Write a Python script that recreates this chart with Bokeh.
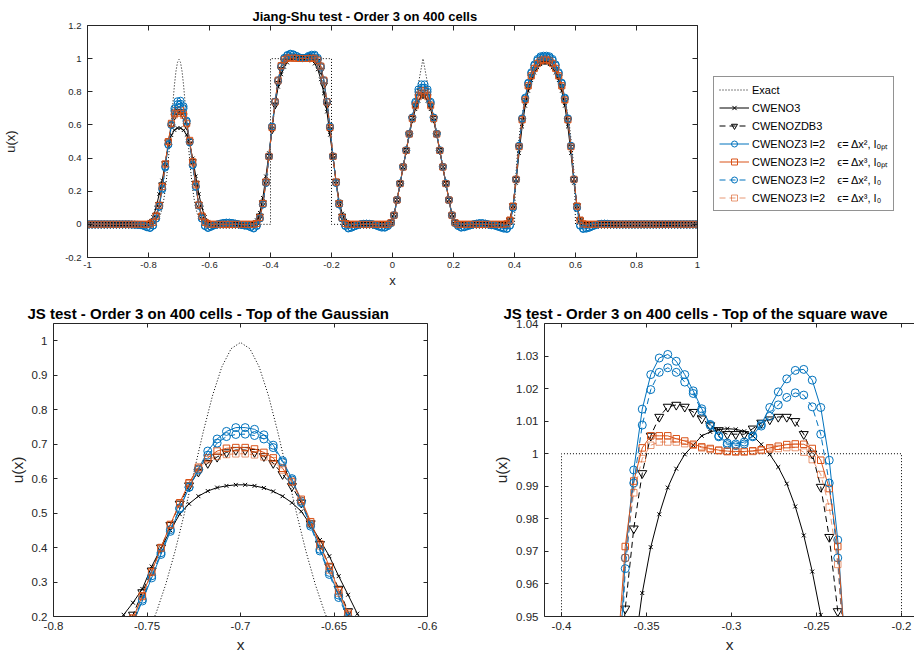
import numpy as np
from bokeh.plotting import figure
from bokeh.layouts import row, column
from bokeh.models import (LinearAxis, FixedTicker, CustomJSTickFormatter, Legend,
                          LegendItem, Range1d)
from bokeh.embed import file_html
from bokeh.resources import INLINE

FONT = "Liberation Sans"
BLUE = "#0072BD"
ORANGE = "#D95319"
INK = "#262626"

# ---------------------------------------------------------------- labels
TITLE_TOP = "Jiang-Shu test - Order 3 on 400 cells"
TITLE_GAUSS = "JS test - Order 3 on 400 cells - Top of the Gaussian"
TITLE_SQUARE = "JS test - Order 3 on 400 cells - Top of the square wave"
LEGEND_LABELS = ["Exact", "CWENO3", "CWENOZDB3",
                 "CWENOZ3 l=2    \u03f5= \u0394x\u00b2, I\u2092\u209a\u209c",
                 "CWENOZ3 l=2    \u03f5= \u0394x\u00b3, I\u2092\u209a\u209c",
                 "CWENOZ3 l=2    \u03f5= \u0394x\u00b2, I\u2080",
                 "CWENOZ3 l=2    \u03f5= \u0394x\u00b3, I\u2080"]

# ---------------------------------------------------------------- ticks
TOP_XTICKS = [-1, -0.8, -0.6, -0.4, -0.2, 0, 0.2, 0.4, 0.6, 0.8, 1]
TOP_YTICKS = [-0.2, 0, 0.2, 0.4, 0.6, 0.8, 1, 1.2]
GAUSS_XTICKS = [-0.8, -0.75, -0.7, -0.65, -0.6]
GAUSS_YTICKS = [0.2, 0.3, 0.4, 0.5, 0.6, 0.7, 0.8, 0.9, 1]
SQ_XTICKS = [-0.4, -0.35, -0.3, -0.25, -0.2]
SQ_YTICKS = [0.95, 0.96, 0.97, 0.98, 0.99, 1, 1.01, 1.02, 1.03, 1.04]

# ---------------------------------------------------------------- exact solution
EX_GAUSS_X = [-0.8, -0.795, -0.79, -0.785, -0.78, -0.775, -0.77, -0.765, -0.76, -0.755,
              -0.75, -0.745, -0.74, -0.735, -0.73, -0.725, -0.72, -0.715, -0.71, -0.705,
              -0.7, -0.695, -0.69, -0.685, -0.68, -0.675, -0.67, -0.665, -0.66, -0.655,
              -0.65, -0.645, -0.64, -0.635, -0.63, -0.625, -0.62, -0.615, -0.61, -0.605, -0.6]
EX_GAUSS_Y = [0.0, 0.001, 0.002, 0.004, 0.007, 0.013, 0.023, 0.039, 0.064, 0.099,
              0.148, 0.212, 0.293, 0.389, 0.499, 0.617, 0.734, 0.84, 0.924, 0.977,
              0.995, 0.977, 0.924, 0.84, 0.734, 0.617, 0.499, 0.389, 0.293, 0.212,
              0.148, 0.099, 0.064, 0.039, 0.023, 0.013, 0.007, 0.004, 0.002, 0.001, 0.0]
EX_SQ_X = [-0.4, -0.4, -0.2, -0.2]
EX_SQ_Y = [0.0, 1.0, 1.0, 0.0]
EX_TRI_X = [0.0, 0.1, 0.2]
EX_TRI_Y = [0.0, 1.0, 0.0]
EX_ELL_X = [0.4, 0.4025, 0.405, 0.41, 0.42, 0.43, 0.44, 0.45, 0.46, 0.47, 0.48, 0.49, 0.5,
            0.51, 0.52, 0.53, 0.54, 0.55, 0.56, 0.57, 0.58, 0.59, 0.595, 0.5975, 0.6]
EX_ELL_Y = [0.0, 0.222, 0.312, 0.436, 0.6, 0.714, 0.8, 0.866, 0.917, 0.954, 0.98, 0.995, 1.0,
            0.995, 0.98, 0.954, 0.917, 0.866, 0.8, 0.714, 0.6, 0.436, 0.312, 0.222, 0.0]

# ---------------------------------------------------------------- top panel (every 2nd cell)
TOP_X = [round(-0.995 + 0.01 * k, 3) for k in range(200)]

# regions of the top grid: flatA(17) gauss(24) flatB(11) square(34) flatC(10)
#                          tri(29) flatD(8) ellipse(31) flatE(36)
CW3_GAUSS = [0.001, 0.002, 0.006, 0.016, 0.045, 0.10, 0.183, 0.265, 0.372, 0.474, 0.538, 0.569,
             0.581, 0.581, 0.568, 0.54, 0.485, 0.398, 0.29, 0.183, 0.10, 0.045, 0.016, 0.006]
ZDB3_GAUSS = [0.0, 0.0, 0.001, 0.004, 0.018, 0.055, 0.12, 0.238, 0.366, 0.497, 0.60, 0.654,
              0.68, 0.68, 0.655, 0.596, 0.50, 0.378, 0.248, 0.12, 0.05, 0.015, 0.004, 0.001]
ZO2_GAUSS = [-0.005, -0.01, -0.018, -0.022, -0.008, 0.035, 0.105, 0.21, 0.343, 0.48, 0.60, 0.70,
             0.743, 0.746, 0.713, 0.626, 0.50, 0.36, 0.23, 0.115, 0.035, -0.01, -0.022, -0.015]
ZO3_GAUSS = [0.0, 0.0, 0.0, 0.002, 0.012, 0.05, 0.115, 0.228, 0.365, 0.50, 0.61, 0.67,
             0.689, 0.689, 0.668, 0.611, 0.507, 0.378, 0.243, 0.118, 0.05, 0.012, 0.002, 0.0]
ZI2_GAUSS = [-0.004, -0.009, -0.016, -0.02, -0.007, 0.035, 0.108, 0.217, 0.35, 0.483, 0.60, 0.685,
             0.725, 0.728, 0.70, 0.62, 0.495, 0.356, 0.225, 0.112, 0.035, -0.009, -0.02, -0.013]
ZI3_GAUSS = [0.0, 0.0, 0.0, 0.002, 0.012, 0.05, 0.115, 0.227, 0.363, 0.497, 0.606, 0.66,
             0.671, 0.671, 0.657, 0.607, 0.502, 0.37, 0.237, 0.115, 0.05, 0.012, 0.002, 0.0]

CW3_SQUARE = [0.0, 0.0, 0.005, 0.025, 0.07, 0.16, 0.29, 0.43, 0.58, 0.72, 0.83, 0.905, 0.95,
              0.976, 0.993, 1.002, 1.006, 1.0076, 1.0073, 1.004, 0.998, 0.988, 0.97, 0.935,
              0.875, 0.79, 0.68, 0.54, 0.40, 0.26, 0.14, 0.065, 0.022, 0.005]
ZDB3_SQUARE = [0.0, 0.0, 0.0, 0.01, 0.05, 0.13, 0.26, 0.41, 0.57, 0.72, 0.85, 0.935, 0.985,
               1.009, 1.0147, 1.0136, 1.0098, 1.0066, 1.006, 1.0085, 1.011, 1.0107, 1.003, 0.982,
               0.93, 0.84, 0.72, 0.57, 0.41, 0.26, 0.13, 0.05, 0.01, 0.0]
ZO2_SQUARE = [-0.01, -0.018, -0.025, -0.01, 0.035, 0.12, 0.25, 0.41, 0.59, 0.74, 0.87, 0.955,
              1.005, 1.022, 1.030, 1.026, 1.016, 1.007, 1.003, 1.006, 1.017, 1.024, 1.024, 1.005,
              0.955, 0.87, 0.74, 0.59, 0.41, 0.25, 0.12, 0.035, -0.01, -0.025]
ZO3_SQUARE = [0.0, 0.0, 0.0, 0.005, 0.04, 0.125, 0.255, 0.41, 0.585, 0.74, 0.87, 0.958, 0.995,
              1.004, 1.0055, 1.0042, 1.0025, 1.0014, 1.0008, 1.001, 1.0016, 1.0024, 1.0025, 0.993,
              0.955, 0.87, 0.74, 0.585, 0.41, 0.255, 0.125, 0.04, 0.005, 0.0]
ZI2_SQUARE = [-0.008, -0.015, -0.022, -0.008, 0.035, 0.12, 0.25, 0.41, 0.59, 0.74, 0.865, 0.95,
              1.0, 1.018, 1.026, 1.024, 1.016, 1.007, 1.0035, 1.006, 1.012, 1.0175, 1.017, 0.998,
              0.948, 0.865, 0.74, 0.59, 0.41, 0.25, 0.12, 0.035, -0.008, -0.022]
ZI3_SQUARE = [0.0, 0.0, 0.0, 0.005, 0.04, 0.125, 0.255, 0.41, 0.583, 0.738, 0.865, 0.955, 0.992,
              1.002, 1.0036, 1.0033, 1.0022, 1.0012, 1.0007, 1.0009, 1.0013, 1.0018, 1.001, 0.99,
              0.95, 0.865, 0.738, 0.583, 0.41, 0.255, 0.125, 0.04, 0.005, 0.0]

CW3_TRI = [0.0, 0.0, 0.004, 0.02, 0.063, 0.148, 0.245, 0.345, 0.443, 0.538, 0.625, 0.695, 0.745,
           0.768, 0.768, 0.745, 0.695, 0.625, 0.538, 0.443, 0.345, 0.245, 0.148, 0.063, 0.02,
           0.004, 0.0, 0.0, 0.0]
ZDB3_TRI = [0.0, 0.0, 0.0, 0.01, 0.055, 0.147, 0.246, 0.346, 0.446, 0.545, 0.638, 0.715, 0.77,
            0.795, 0.795, 0.77, 0.715, 0.638, 0.545, 0.446, 0.346, 0.246, 0.147, 0.055, 0.01,
            0.0, 0.0, 0.0, 0.0]
ZO2_TRI = [-0.02, -0.02, -0.01, 0.008, 0.055, 0.147, 0.247, 0.347, 0.447, 0.547, 0.645, 0.74,
           0.815, 0.845, 0.845, 0.815, 0.74, 0.645, 0.547, 0.447, 0.347, 0.247, 0.147, 0.055,
           0.008, -0.01, -0.02, -0.018, -0.012]
ZO3_TRI = [0.0, 0.0, 0.0, 0.01, 0.055, 0.147, 0.246, 0.346, 0.446, 0.545, 0.64, 0.72, 0.78,
           0.806, 0.806, 0.78, 0.72, 0.64, 0.545, 0.446, 0.346, 0.246, 0.147, 0.055, 0.01,
           0.0, 0.0, 0.0, 0.0]
ZI2_TRI = [-0.016, -0.018, -0.009, 0.008, 0.055, 0.147, 0.247, 0.347, 0.447, 0.546, 0.643, 0.733,
           0.8, 0.825, 0.825, 0.8, 0.733, 0.643, 0.546, 0.447, 0.347, 0.247, 0.147, 0.055,
           0.008, -0.009, -0.018, -0.016, -0.01]
ZI3_TRI = [0.0, 0.0, 0.0, 0.01, 0.055, 0.147, 0.246, 0.346, 0.446, 0.545, 0.638, 0.715, 0.77,
           0.793, 0.793, 0.77, 0.715, 0.638, 0.545, 0.446, 0.346, 0.246, 0.147, 0.055, 0.01,
           0.0, 0.0, 0.0, 0.0]

CW3_ELL = [0.0, 0.0, 0.0, 0.002, 0.008, 0.035, 0.11, 0.25, 0.43, 0.59, 0.715, 0.805, 0.87, 0.915,
           0.947, 0.966, 0.974, 0.974, 0.966, 0.947, 0.915, 0.87, 0.805, 0.715, 0.59, 0.43, 0.25,
           0.11, 0.035, 0.008, 0.002]
ZDB3_ELL = [0.0, 0.0, 0.0, 0.0, 0.003, 0.026, 0.112, 0.27, 0.465, 0.625, 0.745, 0.83, 0.89, 0.935,
            0.965, 0.982, 0.99, 0.99, 0.982, 0.965, 0.935, 0.89, 0.83, 0.745, 0.625, 0.465, 0.27,
            0.112, 0.026, 0.003, 0.0]
ZO2_ELL = [-0.008, -0.014, -0.02, -0.026, -0.028, -0.008, 0.1, 0.272, 0.475, 0.64, 0.765, 0.855,
           0.918, 0.965, 0.998, 1.014, 1.018, 1.018, 1.014, 0.998, 0.965, 0.918, 0.855, 0.765,
           0.64, 0.475, 0.272, 0.1, -0.008, -0.028, -0.026]
ZO3_ELL = [0.0, 0.0, 0.0, 0.0, 0.003, 0.025, 0.11, 0.272, 0.47, 0.632, 0.752, 0.837, 0.897, 0.942,
           0.972, 0.989, 0.996, 0.996, 0.989, 0.972, 0.942, 0.897, 0.837, 0.752, 0.632, 0.47,
           0.272, 0.11, 0.025, 0.003, 0.0]
ZI2_ELL = [-0.006, -0.012, -0.018, -0.023, -0.025, -0.006, 0.1, 0.27, 0.472, 0.637, 0.76, 0.85,
           0.912, 0.958, 0.99, 1.006, 1.01, 1.01, 1.006, 0.99, 0.958, 0.912, 0.85, 0.76, 0.637,
           0.472, 0.27, 0.1, -0.006, -0.025, -0.023]
ZI3_ELL = [0.0, 0.0, 0.0, 0.0, 0.003, 0.025, 0.11, 0.27, 0.468, 0.63, 0.75, 0.835, 0.895, 0.94,
           0.969, 0.985, 0.992, 0.992, 0.985, 0.969, 0.94, 0.895, 0.835, 0.75, 0.63, 0.468, 0.27,
           0.11, 0.025, 0.003, 0.0]

# flat parts (the blue schemes show small ripples there)
BLUE_FLAT_A = [0.0] * 14 + [-0.001, -0.002, -0.003]
BLUE_FLAT_B = [-0.006, -0.001, 0.004, 0.008, 0.01, 0.01, 0.008, 0.004, 0.0, -0.004, -0.007]
BLUE_FLAT_C = [-0.02, -0.012, -0.005, 0.0, 0.003, 0.004, 0.003, 0.0, -0.006, -0.013]
BLUE_FLAT_D = [-0.006, 0.0, 0.004, 0.007, 0.007, 0.004, -0.001, -0.005]
BLUE_FLAT_E = [-0.02, -0.012, -0.005, 0.0, 0.003, 0.004, 0.003, 0.001] + [0.0] * 28
ZERO_A, ZERO_B, ZERO_C, ZERO_D, ZERO_E = [0.0] * 17, [0.0] * 11, [0.0] * 10, [0.0] * 8, [0.0] * 36

# ---------------------------------------------------------------- bottom-left (Gaussian top)
BL_X = [-0.7675, -0.7625, -0.7575, -0.7525, -0.7475, -0.7425, -0.7375, -0.7325, -0.7275, -0.7225,
        -0.7175, -0.7125, -0.7075, -0.7025, -0.6975, -0.6925, -0.6875, -0.6825, -0.6775, -0.6725,
        -0.6675, -0.6625, -0.6575, -0.6525, -0.6475, -0.6425, -0.6375, -0.6325]
CW3_BL = [0.165, 0.205, 0.24, 0.28, 0.345, 0.398, 0.45, 0.497, 0.527, 0.549, 0.564, 0.574, 0.579,
          0.582, 0.582, 0.579, 0.573, 0.563, 0.549, 0.53, 0.505, 0.465, 0.422, 0.375, 0.317,
          0.263, 0.208, 0.155]
ZDB3_BL = [0.095, 0.15, 0.205, 0.27, 0.333, 0.40, 0.465, 0.527, 0.58, 0.62, 0.645, 0.663, 0.676,
           0.683, 0.683, 0.677, 0.665, 0.645, 0.613, 0.578, 0.53, 0.47, 0.41, 0.345, 0.28, 0.215,
           0.15, 0.09]
ZO2_BL = [0.085, 0.13, 0.18, 0.245, 0.312, 0.38, 0.447, 0.512, 0.575, 0.628, 0.68, 0.715, 0.737,
          0.748, 0.748, 0.743, 0.727, 0.697, 0.652, 0.60, 0.535, 0.467, 0.395, 0.328, 0.262, 0.20,
          0.14, 0.085]
ZO3_BL = [0.09, 0.14, 0.195, 0.26, 0.33, 0.40, 0.467, 0.53, 0.588, 0.633, 0.66, 0.68, 0.688, 0.69,
          0.69, 0.686, 0.676, 0.66, 0.63, 0.592, 0.54, 0.475, 0.41, 0.345, 0.275, 0.21, 0.145,
          0.088]
ZI2_BL = [0.09, 0.135, 0.185, 0.25, 0.318, 0.385, 0.452, 0.515, 0.575, 0.625, 0.668, 0.703, 0.722,
          0.728, 0.729, 0.725, 0.715, 0.69, 0.648, 0.596, 0.53, 0.462, 0.39, 0.322, 0.255, 0.195,
          0.135, 0.082]
ZI3_BL = [0.09, 0.14, 0.195, 0.258, 0.328, 0.398, 0.465, 0.528, 0.585, 0.628, 0.655, 0.665, 0.67,
          0.672, 0.672, 0.669, 0.663, 0.652, 0.625, 0.59, 0.535, 0.47, 0.405, 0.335, 0.268, 0.205,
          0.14, 0.085]

# ---------------------------------------------------------------- bottom-right (square top)
BR_X = [-0.3725, -0.3675, -0.3625, -0.3575, -0.3525, -0.3475, -0.3425, -0.3375, -0.3325, -0.3275,
        -0.3225, -0.3175, -0.3125, -0.3075, -0.3025, -0.2975, -0.2925, -0.2875, -0.2825, -0.2775,
        -0.2725, -0.2675, -0.2625, -0.2575, -0.2525, -0.2475, -0.2425, -0.2375, -0.2325, -0.2275]
CW3_BR = [0.83, 0.875, 0.91, 0.938, 0.9572, 0.9713, 0.9814, 0.9896, 0.9954, 0.9998, 1.0026, 1.0055,
          1.0067, 1.0074, 1.0077, 1.0075, 1.0069, 1.0055, 1.0029, 0.9998, 0.9959, 0.9908, 0.9838,
          0.9749, 0.9638, 0.9505, 0.932, 0.905, 0.87, 0.83]
ZDB3_BR = [0.87, 0.92, 0.9524, 0.977, 0.994, 1.0055, 1.0113, 1.0144, 1.015, 1.0144, 1.0128, 1.0108,
           1.0087, 1.0072, 1.006, 1.006, 1.006, 1.0077, 1.0095, 1.0105, 1.0113, 1.0113, 1.01,
           1.006, 1.0, 0.9898, 0.9744, 0.9516, 0.92, 0.87]
ZO2_BR = [0.86, 0.92, 0.968, 0.995, 1.0137, 1.0243, 1.0294, 1.0305, 1.0284, 1.0243, 1.0193, 1.0138,
          1.009, 1.0055, 1.0033, 1.003, 1.0036, 1.0055, 1.009, 1.0142, 1.019, 1.023, 1.0256,
          1.0259, 1.0226, 1.0142, 0.998, 0.9735, 0.935, 0.88]
ZO3_BR = [0.88, 0.935, 0.9715, 0.9916, 1.0018, 1.0055, 1.0055, 1.0055, 1.0046, 1.0039, 1.0029,
          1.0021, 1.0016, 1.0011, 1.0008, 1.0007, 1.0007, 1.0009, 1.0012, 1.0018, 1.0023, 1.0028,
          1.003, 1.0029, 1.0016, 0.998, 0.9893, 0.9715, 0.935, 0.88]
ZI2_BR = [0.85, 0.91, 0.9647, 0.991, 1.0088, 1.0197, 1.025, 1.0264, 1.025, 1.022, 1.0185, 1.0131,
          1.0087, 1.0052, 1.0028, 1.0025, 1.003, 1.0052, 1.0085, 1.0115, 1.015, 1.0173, 1.0187,
          1.018, 1.0144, 1.006, 0.991, 0.968, 0.93, 0.875]
ZI3_BR = [0.875, 0.93, 0.968, 0.988, 0.9985, 1.0026, 1.0036, 1.0036, 1.0036, 1.0031, 1.0026,
          1.0018, 1.0013, 1.0009, 1.0006, 1.0005, 1.0005, 1.0007, 1.001, 1.0014, 1.0016, 1.0019,
          1.0019, 1.0005, 0.9982, 0.9936, 0.9836, 0.966, 0.93, 0.875]

# ---------------------------------------------------------------- styles
SERIES_KEYS = ["cw3", "zdb3", "zo2", "zo3", "zi2", "zi3"]
STYLE = {
    "cw3": dict(color="black", dash="solid", marker="x", alpha=1.0),
    "zdb3": dict(color="black", dash="6 4", marker="inverted_triangle", alpha=1.0),
    "zo2": dict(color=BLUE, dash="solid", marker="circle", alpha=1.0),
    "zo3": dict(color=ORANGE, dash="solid", marker="square", alpha=1.0),
    "zi2": dict(color=BLUE, dash="6 4", marker="circle", alpha=1.0),
    "zi3": dict(color=ORANGE, dash="6 4", marker="square", alpha=0.6),
}
TOP_SIZES = {"x": 5, "inverted_triangle": 7, "circle": 7, "square": 6}
BOT_SIZES = {"x": 5.5, "inverted_triangle": 9, "circle": 8, "square": 6.5}
LEG_SIZES = {"x": 4.5, "inverted_triangle": 7, "circle": 7, "square": 5.5}


def top_series(fa, g, fb, s, fc, t, fd, e, fe):
    return fa + g + fb + s + fc + t + fd + e + fe


TOP_Y = [
    top_series(ZERO_A, CW3_GAUSS, ZERO_B, CW3_SQUARE, ZERO_C, CW3_TRI, ZERO_D, CW3_ELL, ZERO_E),
    top_series(ZERO_A, ZDB3_GAUSS, ZERO_B, ZDB3_SQUARE, ZERO_C, ZDB3_TRI, ZERO_D, ZDB3_ELL, ZERO_E),
    top_series(BLUE_FLAT_A, ZO2_GAUSS, BLUE_FLAT_B, ZO2_SQUARE, BLUE_FLAT_C, ZO2_TRI, BLUE_FLAT_D,
               ZO2_ELL, BLUE_FLAT_E),
    top_series(ZERO_A, ZO3_GAUSS, ZERO_B, ZO3_SQUARE, ZERO_C, ZO3_TRI, ZERO_D, ZO3_ELL, ZERO_E),
    top_series(BLUE_FLAT_A, ZI2_GAUSS, BLUE_FLAT_B, ZI2_SQUARE, BLUE_FLAT_C, ZI2_TRI, BLUE_FLAT_D,
               ZI2_ELL, BLUE_FLAT_E),
    top_series(ZERO_A, ZI3_GAUSS, ZERO_B, ZI3_SQUARE, ZERO_C, ZI3_TRI, ZERO_D, ZI3_ELL, ZERO_E),
]
EX_TOP_X = [-1.0] + EX_GAUSS_X + EX_SQ_X + EX_TRI_X + EX_ELL_X + [1.0]
EX_TOP_Y = [0.0] + EX_GAUSS_Y + EX_SQ_Y + EX_TRI_Y + EX_ELL_Y + [0.0]


def make_fig(w, h, xr, yr, borders):
    l, r, t, b = borders
    p = figure(width=w, height=h, x_range=Range1d(*xr), y_range=Range1d(*yr),
               output_backend="svg", toolbar_location=None, tools="",
               min_border_left=l, min_border_right=r, min_border_top=t, min_border_bottom=b)
    p.grid.visible = False
    p.outline_line_color = None
    p.background_fill_color = "white"
    p.border_fill_color = "white"
    return p


def style_axes(p, xticks, yticks, tick_px, lab_px, xlab_so, ylab_so, xt_so, yt_so, tick_len,
               right=True):
    for ax, ticks, lab, ls, ts in ((p.xaxis[0], xticks, "x", xlab_so, xt_so),
                                   (p.yaxis[0], yticks, "u(x)", ylab_so, yt_so)):
        ax.ticker = FixedTicker(ticks=ticks, minor_ticks=[])
        ax.formatter = CustomJSTickFormatter(code="return String(Math.round(tick * 100) / 100);")
        ax.axis_label = lab
        ax.axis_label_text_font = FONT
        ax.axis_label_text_font_size = f"{lab_px}px"
        ax.axis_label_text_font_style = "normal"
        ax.axis_label_text_color = INK
        ax.axis_label_standoff = ls
        ax.major_label_text_font = FONT
        ax.major_label_text_font_size = f"{tick_px}px"
        ax.major_label_text_color = INK
        ax.major_label_standoff = ts
        ax.major_tick_in = tick_len
        ax.major_tick_out = 0
        ax.minor_tick_in = 0
        ax.minor_tick_out = 0
        ax.axis_line_color = INK
        ax.major_tick_line_color = INK
    sides = [("above", xticks)]
    if right:
        sides.append(("right", yticks))
    for side, ticks in sides:
        ax = LinearAxis(ticker=FixedTicker(ticks=ticks, minor_ticks=[]),
                        formatter=CustomJSTickFormatter(code="return '';"),
                        major_label_standoff=0, major_tick_in=tick_len, major_tick_out=0,
                        minor_tick_in=0, minor_tick_out=0, axis_line_color=INK,
                        major_tick_line_color=INK)
        p.add_layout(ax, side)


def style_title(p, text, px, offset, standoff):
    p.title.text = text
    p.title.text_font = FONT
    p.title.text_font_size = f"{px}px"
    p.title.text_font_style = "bold"
    p.title.text_color = "black"
    p.title.align = "left"
    p.title.offset = offset
    p.title.standoff = standoff


def draw(p, x, ys, sizes, ex_x, ex_y):
    rends = [[p.line(ex_x, ex_y, line_color="black", line_width=1, line_dash="1 2")]]
    for key, y in zip(SERIES_KEYS, ys):
        st = STYLE[key]
        rl = p.line(x, y, line_color=st["color"], line_width=1, line_dash=st["dash"],
                    line_alpha=st["alpha"])
        rm = p.scatter(x, y, marker=st["marker"], size=sizes[st["marker"]], line_color=st["color"],
                       line_alpha=st["alpha"], fill_color=None, line_width=1)
        rends.append([rl, rm])
    return rends


# ---------------------------------------------------------------- top panel
top = make_fig(705, 290, (-1, 1), (-0.2, 1.2), (86, 8, 25, 33))
draw(top, TOP_X, TOP_Y, TOP_SIZES, EX_TOP_X, EX_TOP_Y)
style_axes(top, TOP_XTICKS, TOP_YTICKS, 9.5, 13, 2, 44, 4, 6, 5)
style_title(top, TITLE_TOP, 13, 165, 3)

# ---------------------------------------------------------------- legend panel
# same series drawn again, but the view range lies away from the data: only the legend shows
lf = figure(width=209, height=290, x_range=Range1d(5, 6), y_range=Range1d(5, 6),
            output_backend="svg", toolbar_location=None, tools="", min_border=0,
            x_axis_type=None, y_axis_type=None)
lf.grid.visible = False
lf.outline_line_color = None
leg_rends = draw(lf, TOP_X, TOP_Y, LEG_SIZES, EX_TOP_X, EX_TOP_Y)
items = [LegendItem(label=lab, renderers=r) for lab, r in zip(LEGEND_LABELS, leg_rends)]
legend = Legend(items=items, location=(8, 46), label_text_font=FONT,
                label_text_font_size="11px", label_text_color="black", glyph_width=30,
                glyph_height=15, label_height=15, label_standoff=3, spacing=3, padding=5,
                margin=0, border_line_color=INK, border_line_width=1,
                background_fill_color="white", background_fill_alpha=1.0)
lf.add_layout(legend, "center")

# ---------------------------------------------------------------- bottom-left
bl = make_fig(457, 366, (-0.8, -0.6), (0.2, 1.05), (53, 30, 33, 40))
draw(bl, BL_X, [CW3_BL, ZDB3_BL, ZO2_BL, ZO3_BL, ZI2_BL, ZI3_BL], BOT_SIZES,
     EX_GAUSS_X, EX_GAUSS_Y)
style_axes(bl, GAUSS_XTICKS, GAUSS_YTICKS, 11.5, 15.5, 3, 3, 5, 6, 4)
style_title(bl, TITLE_GAUSS, 15, -26, 3)

# ---------------------------------------------------------------- bottom-right
br = make_fig(457, 366, (-0.41, -0.41 + 370 / 1700), (0.95, 1.04), (87, 0, 33, 40))
draw(br, BR_X, [CW3_BR, ZDB3_BR, ZO2_BR, ZO3_BR, ZI2_BR, ZI3_BR], BOT_SIZES, EX_SQ_X, EX_SQ_Y)
style_axes(br, SQ_XTICKS, SQ_YTICKS, 11.5, 15.5, 3, 3, 5, 6, 4, right=False)
style_title(br, TITLE_SQUARE, 15, -41, 3)

layout = column(row(top, lf), row(bl, br))
open("out.html", "w").write(file_html(layout, INLINE, title="Jiang-Shu test"))
